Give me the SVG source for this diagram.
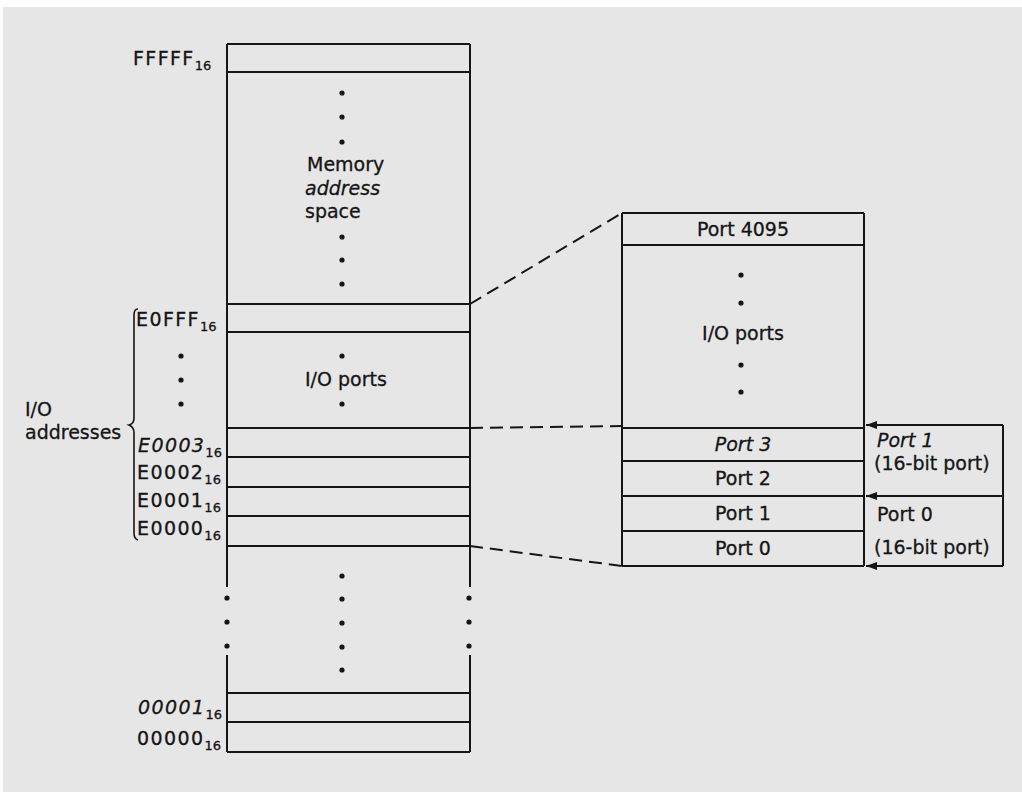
<svg xmlns="http://www.w3.org/2000/svg" width="1022" height="792" viewBox="0 0 1022 792">
<defs>
<style>
.bg{fill:#e6e6e6}
.ln{stroke:#151515;stroke-width:2;fill:none}
.br{stroke:#151515;stroke-width:1.6;fill:none}
.dash{stroke:#151515;stroke-width:2;fill:none;stroke-dasharray:13 7}
.dot{fill:#151515}
.t{font-family:"DejaVu Sans","Liberation Sans",sans-serif;font-size:19px;fill:#151515;stroke:#151515;stroke-width:0.3}
.a{letter-spacing:1.4px}
.m{text-anchor:middle}
.i{font-style:italic}
.s{font-size:13px;letter-spacing:0;font-style:normal}
</style>
<marker id="arr" viewBox="0 0 11 8" refX="11" refY="4" markerWidth="11" markerHeight="8" markerUnits="userSpaceOnUse" orient="auto">
<path d="M0,0 L11,4 L0,8 Z" fill="#151515"/>
</marker>
<circle id="d" r="2.6" class="dot"/>
</defs>
<rect x="0" y="0" width="1022" height="792" fill="#ffffff"/>
<rect x="3" y="7" width="1019" height="785" class="bg"/>

<g id="memory-map">
<path class="ln" d="M227,44 H470 M227,72 H470 M227,304 H470 M227,332 H470 M227,428 H470 M227,457 H470 M227,487 H470 M227,516 H470 M227,546 H470 M227,693 H470 M227,722 H470 M227,752 H470"/>
<path class="ln" d="M227,44 V587 M227,655 V752 M470,44 V587 M470,655 V752"/>
<use href="#d" x="342" y="93"/><use href="#d" x="342" y="117"/><use href="#d" x="342" y="142"/>
<use href="#d" x="342" y="237"/><use href="#d" x="342" y="260"/><use href="#d" x="342" y="284"/>
<text class="t" x="307" y="171">Memory</text>
<text class="t i" x="305" y="195">address</text>
<text class="t" x="305" y="218">space</text>
<use href="#d" x="342" y="356"/><use href="#d" x="342" y="404"/>
<text class="t" x="305" y="386">I/O ports</text>
<use href="#d" x="342" y="576"/><use href="#d" x="342" y="599"/><use href="#d" x="342" y="623"/><use href="#d" x="342" y="647"/><use href="#d" x="342" y="670"/>
<use href="#d" x="227" y="598"/><use href="#d" x="227" y="622"/><use href="#d" x="227" y="646"/>
<use href="#d" x="469" y="598"/><use href="#d" x="469" y="622"/><use href="#d" x="469" y="646"/>
</g>

<g id="address-labels">
<text class="t a" x="133" y="65">FFFFF<tspan class="s" dy="5">16</tspan></text>
<text class="t a" x="136" y="326">E0FFF<tspan class="s" dy="5">16</tspan></text>
<use href="#d" x="181" y="356"/><use href="#d" x="181" y="380"/><use href="#d" x="181" y="404"/>
<text class="t a i" x="138" y="452">E0003<tspan class="s" dy="5">16</tspan></text>
<text class="t a" x="137" y="479">E0002<tspan class="s" dy="5">16</tspan></text>
<text class="t a" x="137" y="507">E0001<tspan class="s" dy="5">16</tspan></text>
<text class="t a" x="137" y="535">E0000<tspan class="s" dy="5">16</tspan></text>
<text class="t a i" x="138" y="714">00001<tspan class="s" dy="5">16</tspan></text>
<text class="t a" x="137" y="745">00000<tspan class="s" dy="5">16</tspan></text>
</g>

<g id="io-addresses">
<path class="br" d="M138,309 Q134,309 134,315 V418 Q134,424 129,425 Q134,427 134,433 V533 Q134,539 138,540"/>
<text class="t" x="25" y="416">I/O</text>
<text class="t" x="25" y="439">addresses</text>
</g>

<g id="io-port-map">
<path class="ln" d="M622,213 H864 M622,245 H864 M622,428 H864 M622,461 H864 M622,496 H864 M622,531 H864 M622,566 H864 M622,213 V566 M864,213 V566"/>
<text class="t m" x="743" y="236">Port 4095</text>
<use href="#d" x="741" y="275"/><use href="#d" x="741" y="303"/>
<text class="t m" x="743" y="340">I/O ports</text>
<use href="#d" x="741" y="365"/><use href="#d" x="741" y="392"/>
<text class="t m i" x="743" y="451">Port 3</text>
<text class="t m" x="743" y="485">Port 2</text>
<text class="t m" x="743" y="520">Port 1</text>
<text class="t m" x="743" y="555">Port 0</text>
</g>

<g id="word-ports">
<text class="t i" x="877" y="447">Port 1</text>
<text class="t" x="874" y="470">(16-bit port)</text>
<text class="t" x="877" y="521">Port 0</text>
<text class="t" x="874" y="554">(16-bit port)</text>
</g>

<g id="connectors">
<path class="dash" d="M470,304 L622,213"/>
<path class="dash" d="M470,428 L622,426"/>
<path class="dash" d="M470,546 L622,566"/>
<path class="ln" d="M1003,425 V566"/>
<path class="ln" d="M1003,425 H866" marker-end="url(#arr)"/>
<path class="ln" d="M1003,496 H866" marker-end="url(#arr)"/>
<path class="ln" d="M1003,566 H866" marker-end="url(#arr)"/>
</g>
</svg>
